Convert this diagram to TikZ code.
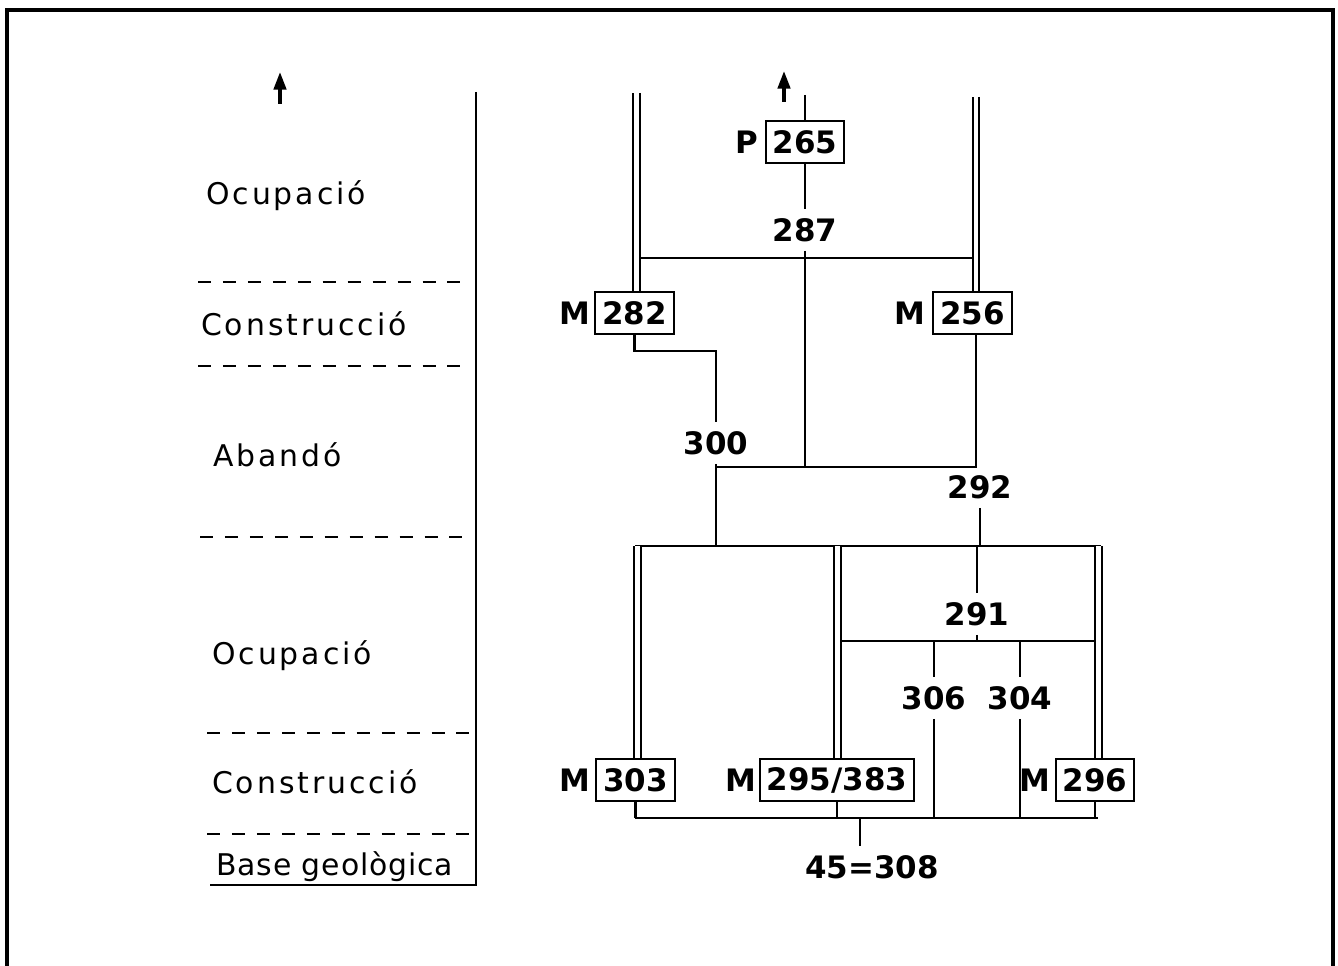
\documentclass[tikz,border=0pt]{standalone}
\usepackage{fontspec}
\setmainfont{DejaVu Sans}
\newfontfamily\stagefont[LetterSpace=10]{DejaVu Sans}
\newfontfamily\basefont[LetterSpace=3]{DejaVu Sans}
\usepackage{tikz}
\usetikzlibrary{positioning,arrows.meta}

\begin{document}
\begin{tikzpicture}[x=0.02cm, y=-0.02cm, line width=1.3pt,
every node/.style={font=\fontsize{17.6}{20}\selectfont\bfseries},
ue/.style={draw, line width=1.3pt, minimum height=0.84cm, inner xsep=0.14cm, inner ysep=0pt},
num/.style={inner xsep=0pt, inner ysep=0.16cm},
pre/.style={inner sep=0pt},
fase/.style={anchor=base west, inner sep=0pt, font=\fontsize{17}{20}\selectfont\stagefont},
sep/.style={dash pattern=on 7.4pt off 6.8pt, line width=1pt},
dbl/.style={double, double distance=2.6pt, line width=1.1pt},
up/.style={-{Triangle[length=10pt,width=7pt]}, line width=2pt}]
\useasboundingbox (0,0) rectangle (1338,966);
\draw[line width=2pt] (7,966) -- (7,10) -- (1333,10) -- (1333,966);

% fases
\node[fase] (f1) at (205,205) {Ocupació};
\node[fase] (f2) at (200,335) {Construcció};
\node[fase] (f3) at (212,466) {Abandó};
\node[fase] (f4) at (211,664) {Ocupació};
\node[fase] (f5) at (211,793) {Construcció};
\node[fase, font=\fontsize{17}{20}\selectfont\basefont] (f6) at (215,875) {Base geològica};
\foreach \y/\a/\b in {282/198/468, 366/198/468, 537/200/470, 733/207/472, 834/207/472}
  \draw[sep] (\a,\y) -- (\b,\y);
\coordinate (ax) at (476,92);
\coordinate (ay) at (476,885);
\coordinate (az) at (210,885);
\draw (ax) -- (ay) -- (az);
\coordinate (t1) at (280,104);
\coordinate (t2) at (280,72);
\draw[up] (t1) -- (t2);

% unitats
\node[ue] (b265) at (805,142) {265};
\node[pre, left=0.1cm of b265] (p265) {P};
\node[num] (l287) at (805,230) {287};
\node[ue] (b282) at (634.5,313) {282};
\node[pre, left=0.06cm of b282] (m282) {M};
\node[ue] (b256) at (972.5,313) {256};
\node[pre, left=0.12cm of b256] (m256) {M};
\node[num] (l300) at (716,443) {300};
\node[num] (l292) at (980,487) {292};
\node[num] (l291) at (977,614) {291};
\node[num] (l306) at (934,698) {306};
\node[num] (l304) at (1020,698) {304};
\node[ue] (b303) at (635.5,780) {303};
\node[pre, left=0.08cm of b303] (m303) {M};
\node[ue] (b295) at (837,780) {295/383};
\node[pre, left=0.02cm of b295] (m295) {M};
\node[ue] (b296) at (1095,780) {296};
\node[pre, left=0.06cm of b296] (m296) {M};
\node[num] (l45) at (872,867) {45=308};

\coordinate (t3) at (784,102);
\coordinate (t4) at (784,71);
\draw[up] (t3) -- (t4);
\coordinate (pc) at (805,95);
\coordinate (dl) at (636.5,93);
\coordinate (dr) at (976,97);
\coordinate (a258) at (640,258);
\coordinate (b258) at (973,258);
\coordinate (j467) at (805,467);
\coordinate (a546) at (635,546);
\coordinate (b546) at (1101,546);
\coordinate (d1) at (637.5,546);
\coordinate (d2) at (837.5,546);
\coordinate (d3) at (1098.5,546);
\coordinate (a641) at (840,641);
\coordinate (b641) at (1096,641);
\coordinate (a818) at (635,818);
\coordinate (b818) at (1098,818);
\coordinate (k818) at (860,818);

\draw[dbl] (dl) -- (dl |- b282.north);
\draw[dbl] (dr) -- (dr |- b256.north);
\draw (pc) -- (b265.north);
\draw (b265.south) -- (l287.north);
\draw (l287.south) -- (j467);
\draw (a258) -- (b258);
\draw (b282.south) -- ++(0,16) -| (l300.north);
\draw (dr |- b256.south) -- (dr |- j467) -- (l300.south |- j467);
\draw (l300.south) -- (l300.south |- a546);
\draw (l292.south) -- (l292.south |- a546);
\draw (a546) -- (b546);
\draw[dbl] (d1) -- (d1 |- b303.north);
\draw[dbl] (d2) -- (d2 |- b295.north);
\draw[dbl] (d3) -- (d3 |- b296.north);
\draw (l291.north |- a546) -- (l291.north);
\draw (l291.south) -- (l291.south |- a641);
\draw (a641) -- (b641);
\draw (l306.north |- a641) -- (l306.north);
\draw (l306.south) -- (l306.south |- a818);
\draw (l304.north |- a641) -- (l304.north);
\draw (l304.south) -- (l304.south |- a818);
\draw (b303.south) -- (b303.south |- a818);
\draw (b295.south) -- (b295.south |- a818);
\draw (b296.south) -- (b296.south |- a818);
\draw (a818) -- (b818);
\draw (k818) -- (k818 |- l45.north);
\end{tikzpicture}
\end{document}
